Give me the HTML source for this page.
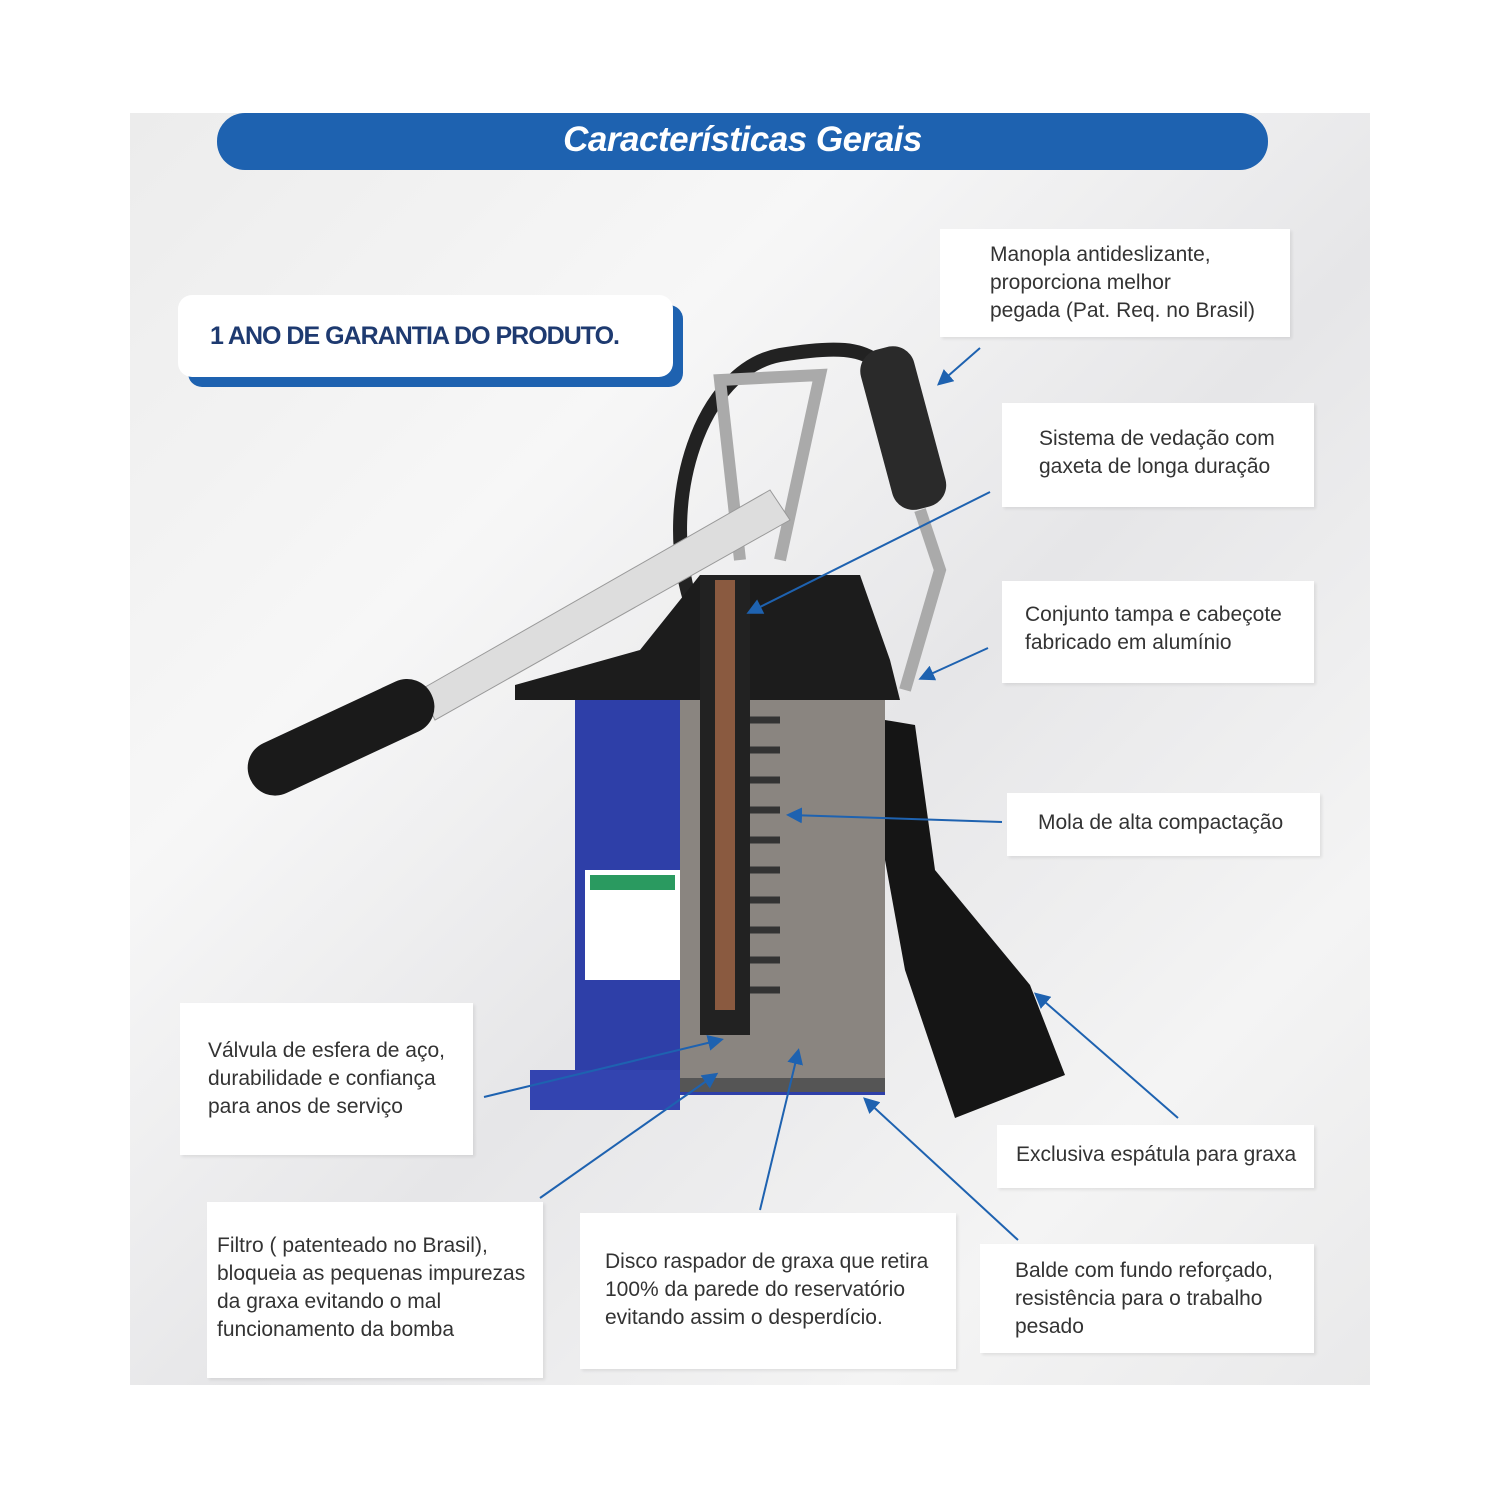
<!DOCTYPE html>
<html><head><meta charset="utf-8"><style>
body{margin:0;width:1500px;height:1500px;background:#fff;position:relative;overflow:hidden;font-family:"Liberation Sans",sans-serif}
.bg{position:absolute;left:130px;top:113px;width:1240px;height:1272px;background:linear-gradient(135deg,#ececec 0%,#f7f7f7 30%,#e6e6e8 55%,#f4f4f4 80%,#e9e9ea 100%)}
.title{position:absolute;left:217px;top:113px;width:1051px;height:57px;background:#1e62b0;border-radius:28px;color:#fff;font-style:italic;font-weight:bold;font-size:35px;letter-spacing:-0.5px;text-align:center;line-height:54px}
.box{position:absolute;background:#fff;color:#333;font-size:21px;line-height:28px;box-sizing:border-box;box-shadow:2px 2px 3px rgba(0,0,0,0.08)}
.gar{position:absolute;left:178px;top:295px;width:495px;height:82px;background:#fff;border-radius:14px;box-shadow:10px 10px 0 #1e62b0;font-weight:bold;font-size:25px;color:#1e3a70;letter-spacing:-1px;line-height:82px;padding-left:32px;box-sizing:border-box}
svg{position:absolute;left:0;top:0}
</style></head><body>
<div class="bg"></div>
<div class="title">Características Gerais</div>
<div class="gar">1 ANO DE GARANTIA DO PRODUTO.</div>
<svg width="1500" height="1500">
<path d="M690 600 C660 500 700 370 780 355 C840 345 860 350 875 360" stroke="#222" stroke-width="14" fill="none"/>
<path d="M690 640 C680 610 700 600 730 600" stroke="#222" stroke-width="14" fill="none"/>
<path d="M740 560 L720 380 L820 375 L780 560" stroke="#aaa" stroke-width="12" fill="none"/>
<polygon points="420,690 770,490 790,520 435,720" fill="#ddd" stroke="#999"/>
<g transform="rotate(-25 340 735)"><rect x="240" y="710" width="200" height="55" rx="27" fill="#1a1a1a"/></g>
<polygon points="515,685 640,650 700,575 860,575 890,660 900,700 515,700" fill="#1c1c1c"/>
<rect x="575" y="700" width="310" height="395" fill="#2e3fa8"/>
<rect x="530" y="1070" width="150" height="40" fill="#3344b0"/>
<rect x="585" y="870" width="95" height="110" fill="#fff"/>
<rect x="590" y="875" width="85" height="15" fill="#2a9a60"/>
<polygon points="680,700 885,700 885,1090 680,1090" fill="#8a8580"/>
<rect x="680" y="1078" width="205" height="14" fill="#555"/>
<rect x="700" y="575" width="50" height="460" fill="#222"/>
<rect x="715" y="580" width="20" height="430" fill="#8a5a40"/>
<g stroke="#333" stroke-width="7" fill="none">
<path d="M750 720 h30 M750 750 h30 M750 780 h30 M750 810 h30 M750 840 h30 M750 870 h30 M750 900 h30 M750 930 h30 M750 960 h30 M750 990 h30"/>
</g>
<g transform="rotate(-15 905 425)"><rect x="875" y="345" width="55" height="165" rx="22" fill="#2a2a2a"/></g>
<path d="M920 510 L940 570 L905 690" stroke="#aaa" stroke-width="12" fill="none"/>
<polygon points="885,720 915,725 935,870 1030,985 1065,1075 955,1118 905,970 885,860" fill="#151515"/>
<defs><marker id="a" markerWidth="8" markerHeight="8" refX="6" refY="4" orient="auto"><path d="M0,0 L8,4 L0,8 z" fill="#1e62b0"/></marker></defs>
<g stroke="#1e62b0" stroke-width="2" marker-end="url(#a)">
<line x1="980" y1="348" x2="940" y2="383"/>
<line x1="990" y1="492" x2="750" y2="612"/>
<line x1="988" y1="648" x2="922" y2="678"/>
<line x1="1002" y1="822" x2="790" y2="815"/>
<line x1="1178" y1="1118" x2="1037" y2="995"/>
<line x1="1018" y1="1240" x2="866" y2="1100"/>
<line x1="760" y1="1210" x2="798" y2="1052"/>
<line x1="540" y1="1198" x2="715" y2="1075"/>
<line x1="484" y1="1097" x2="720" y2="1040"/>
</g>
</svg>
<div class="box" style="left:940px;top:229px;width:350px;height:108px;padding:12px 0 0 50px">Manopla antideslizante,<br>proporciona melhor<br>pegada (Pat. Req. no Brasil)</div>
<div class="box" style="left:1002px;top:403px;width:312px;height:104px;padding:22px 0 0 37px">Sistema de vedação com<br>gaxeta de longa duração</div>
<div class="box" style="left:1002px;top:581px;width:312px;height:102px;padding:20px 0 0 23px">Conjunto tampa e cabeçote<br>fabricado em alumínio</div>
<div class="box" style="left:1007px;top:793px;width:313px;height:63px;padding:16px 0 0 31px">Mola de alta compactação</div>
<div class="box" style="left:180px;top:1003px;width:293px;height:152px;padding:34px 0 0 28px">Válvula de esfera de aço,<br>durabilidade e confiança<br>para anos de serviço</div>
<div class="box" style="left:997px;top:1125px;width:317px;height:63px;padding:16px 0 0 19px">Exclusiva espátula para graxa</div>
<div class="box" style="left:207px;top:1202px;width:336px;height:176px;padding:30px 0 0 10px">Filtro ( patenteado no Brasil),<br>bloqueia as pequenas impurezas<br>da graxa evitando o mal<br>funcionamento da bomba</div>
<div class="box" style="left:580px;top:1213px;width:376px;height:156px;padding:35px 0 0 25px">Disco raspador de graxa que retira<br>100% da parede do reservatório<br>evitando assim o desperdício.</div>
<div class="box" style="left:980px;top:1244px;width:334px;height:109px;padding:13px 0 0 35px">Balde com fundo reforçado,<br>resistência para o trabalho<br>pesado</div>
</body></html>
